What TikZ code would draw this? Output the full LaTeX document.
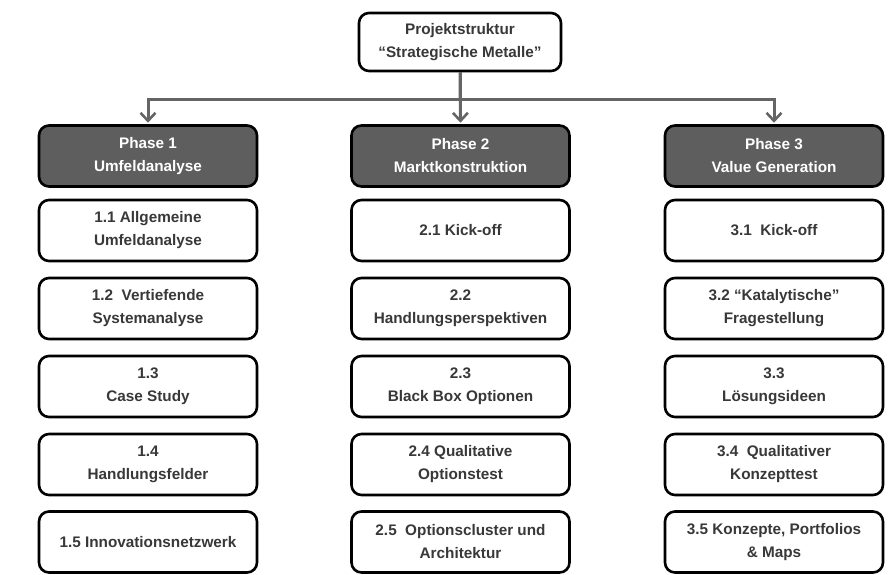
\documentclass[tikz,border=0pt]{standalone}
\usepackage{fontspec}
\setmainfont{Liberation Sans}
\usetikzlibrary{arrows.meta}
\definecolor{phasefill}{HTML}{5E5E5E}
\definecolor{txtgray}{HTML}{383838}
\definecolor{linegray}{HTML}{656565}
\begin{document}
\begin{tikzpicture}[x=1pt,y=-1pt,
  box/.style={draw=black,line width=2.6pt,rounded corners=10pt,
    minimum width=218pt,minimum height=61pt,align=center,inner sep=2pt,
    font=\fontsize{15.3}{23}\selectfont\bfseries,text=txtgray,fill=white},
  phasebox/.style={box,fill=phasefill,text=white},
  topbox/.style={box,minimum width=202pt,minimum height=58pt},
  conn/.style={draw=linegray,line width=3pt},
  arr/.style={conn,-{Straight Barb[length=8pt,width=15pt,line width=2.6pt]},shorten >=1.5pt}]
\useasboundingbox (0,0) rectangle (892,574);

% title box
\node[topbox] (top) at (460,42) {Projektstruktur\\“Strategische Metalle”};

% phase headers
\node[phasebox] (p1) at (148,156) {Phase 1\\Umfeldanalyse};
\node[phasebox] (p2) at (460.5,156) {Phase 2\\Marktkonstruktion};
\node[phasebox] (p3) at (774,156) {Phase 3\\Value Generation};

% distribution bus
\coordinate (bus) at (460,99);
\draw[conn] (top.south) -- (bus);
\draw[arr] (bus) -| (p1.north);
\draw[arr] (bus) -| (p3.north);
\draw[arr] (top.south) -- (p2.north);

% phase 1 steps
\node[box] (a1) at (148,230.5) {1.1 Allgemeine\\Umfeldanalyse};
\node[box] (a2) at (148,308.5) {1.2\ \ Vertiefende\\Systemanalyse};
\node[box] (a3) at (148,386.5) {1.3\\Case Study};
\node[box] (a4) at (148,464.5) {1.4\\Handlungsfelder};
\node[box] (a5) at (148,542) {1.5 Innovationsnetzwerk};

% phase 2 steps
\node[box] (b1) at (460.5,230.5) {2.1 Kick-off};
\node[box] (b2) at (460.5,308.5) {2.2\\Handlungsperspektiven};
\node[box] (b3) at (460.5,386.5) {2.3\\Black Box Optionen};
\node[box] (b4) at (460.5,464.5) {2.4 Qualitative\\Optionstest};
\node[box] (b5) at (460.5,542) {2.5\ \ Optionscluster und\\Architektur};

% phase 3 steps
\node[box] (c1) at (774,230.5) {3.1\ \ Kick-off};
\node[box] (c2) at (774,308.5) {3.2 “Katalytische”\\Fragestellung};
\node[box] (c3) at (774,386.5) {3.3\\Lösungsideen};
\node[box] (c4) at (774,464.5) {3.4\ \ Qualitativer\\Konzepttest};
\node[box] (c5) at (774,542) {3.5 Konzepte, Portfolios\\\& Maps};
\end{tikzpicture}
\end{document}
